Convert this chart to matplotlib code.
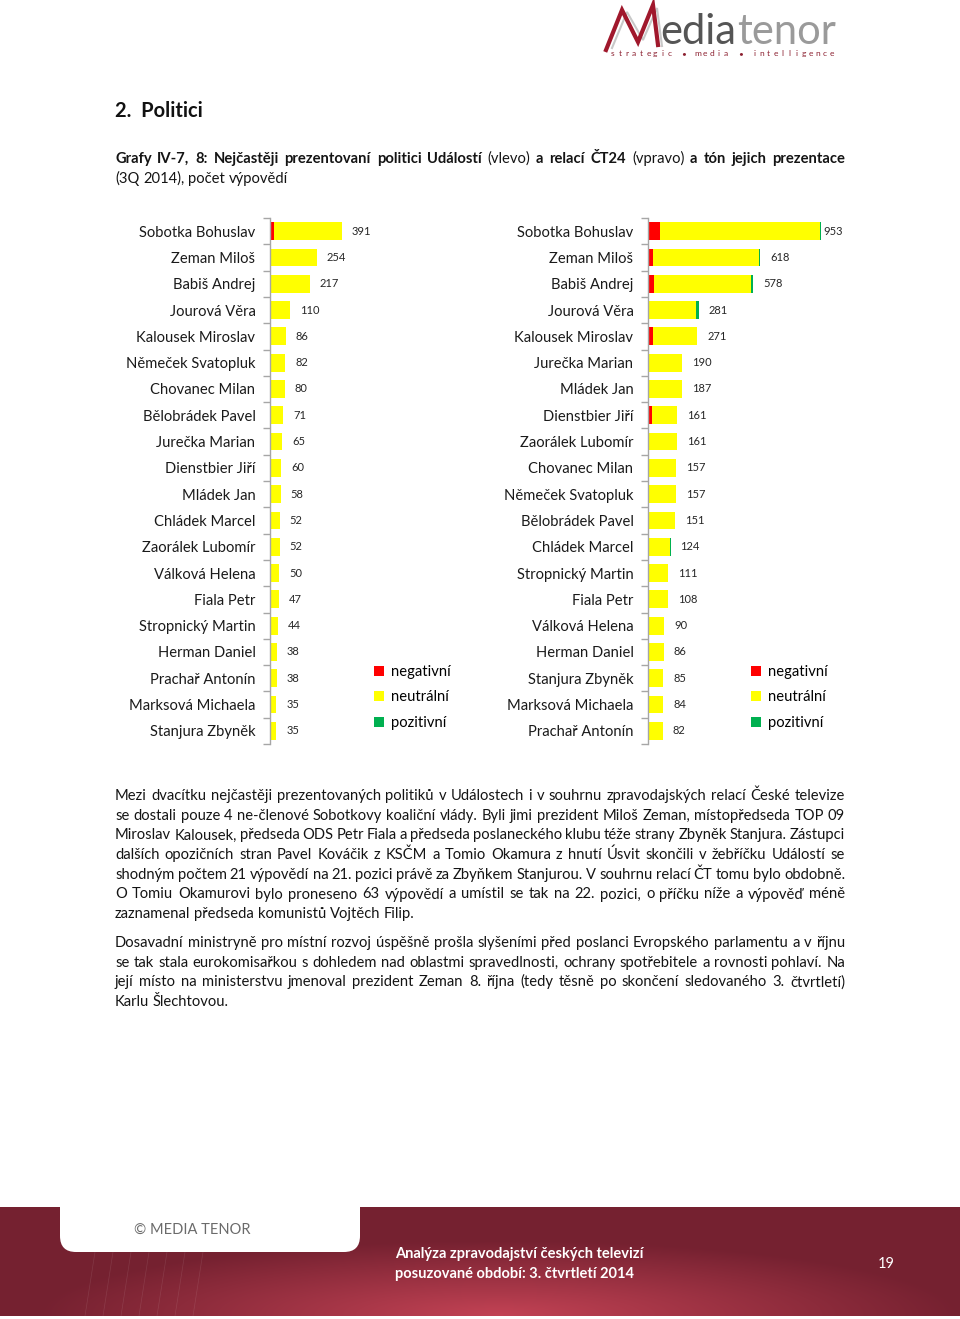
import numpy as np
import matplotlib
matplotlib.use('Agg')
import matplotlib.pyplot as plt
from matplotlib.patches import FancyBboxPatch, Rectangle

plt.rcParams['font.family'] = ['Lato', 'DejaVu Sans']

####################################################
# Data
left_names = ['Sobotka Bohuslav', 'Zeman Miloš', 'Babiš Andrej', 'Jourová Věra', 'Kalousek Miroslav',
              'Němeček Svatopluk', 'Chovanec Milan', 'Bělobrádek Pavel', 'Jurečka Marian', 'Dienstbier Jiří',
              'Mládek Jan', 'Chládek Marcel', 'Zaorálek Lubomír', 'Válková Helena', 'Fiala Petr',
              'Stropnický Martin', 'Herman Daniel', 'Prachař Antonín', 'Marksová Michaela', 'Stanjura Zbyněk']
left_total = [391, 254, 217, 110, 86, 82, 80, 71, 65, 60, 58, 52, 52, 50, 47, 44, 38, 38, 35, 35]
left_neg = [21, 5, 5, 1, 0, 0, 0, 0, 0, 2, 0, 0, 0, 0, 0, 0, 0, 0, 0, 0]
left_pos = [1, 0, 2, 4, 0, 0, 0, 0, 0, 0, 0, 0, 0, 0, 0, 0, 0, 0, 0, 0]

right_names = ['Sobotka Bohuslav', 'Zeman Miloš', 'Babiš Andrej', 'Jourová Věra', 'Kalousek Miroslav',
               'Jurečka Marian', 'Mládek Jan', 'Dienstbier Jiří', 'Zaorálek Lubomír', 'Chovanec Milan',
               'Němeček Svatopluk', 'Bělobrádek Pavel', 'Chládek Marcel', 'Stropnický Martin', 'Fiala Petr',
               'Válková Helena', 'Herman Daniel', 'Stanjura Zbyněk', 'Marksová Michaela', 'Prachař Antonín']
right_total = [953, 618, 578, 281, 271, 190, 187, 161, 161, 157, 157, 151, 124, 111, 108, 90, 86, 85, 84, 82]
right_neg = [66, 25, 33, 4, 27, 0, 0, 20, 0, 0, 2, 0, 6, 0, 0, 5, 0, 0, 0, 0]
right_pos = [5, 4, 10, 15, 0, 3, 0, 0, 0, 0, 0, 0, 2, 0, 0, 2, 0, 0, 0, 0]

tone_labels = ['negativní', 'neutrální', 'pozitivní']
tone_colors = ['#ff0000', '#ffff00', '#00b050']

caption_l1 = [('Grafy IV-7, 8: Nejčastěji prezentovaní politici Událostí', 'bold'), ('(vlevo)', 'normal'),
              ('a relací ČT24', 'bold'), ('(vpravo)', 'normal'), ('a tón jejich prezentace', 'bold')]
caption_l2 = '(3Q 2014), počet výpovědí'

para1 = ['Mezi dvacítku nejčastěji prezentovaných politiků v Událostech i v souhrnu zpravodajských relací České televize',
         'se dostali pouze 4 ne-členové Sobotkovy koaliční vlády. Byli jimi prezident Miloš Zeman, místopředseda TOP 09',
         'Miroslav Kalousek, předseda ODS Petr Fiala a předseda poslaneckého klubu téže strany Zbyněk Stanjura. Zástupci',
         'dalších opozičních stran Pavel Kováčik z KSČM a Tomio Okamura z hnutí Úsvit skončili v žebříčku Událostí se',
         'shodným počtem 21 výpovědí na 21. pozici právě za Zbyňkem Stanjurou. V souhrnu relací ČT tomu bylo obdobně.',
         'O Tomiu Okamurovi bylo proneseno 63 výpovědí a umístil se tak na 22. pozici, o příčku níže a výpověď méně',
         'zaznamenal předseda komunistů Vojtěch Filip.']
para2 = ['Dosavadní ministryně pro místní rozvoj úspěšně prošla slyšeními před poslanci Evropského parlamentu a v říjnu',
         'se tak stala eurokomisařkou s dohledem nad oblastmi spravedlnosti, ochrany spotřebitele a rovnosti pohlaví. Na',
         'její místo na ministerstvu jmenoval prezident Zeman 8. října (tedy těsně po skončení sledovaného 3. čtvrtletí)',
         'Karlu Šlechtovou.']
####################################################

W, H = 960, 1319
fig = plt.figure(figsize=(W / 100, H / 100), dpi=100)
page = fig.add_axes([0, 0, 1, 1], zorder=0)
page.set_xlim(0, W)
page.set_ylim(H, 0)
page.axis('off')
renderer = fig.canvas.get_renderer()


def text_width(s, size, weight='normal'):
    t = page.text(0, 0, s, fontsize=size, fontweight=weight)
    w = t.get_window_extent(renderer=renderer).width
    t.remove()
    return w


# Draw a line of words, optionally justified between x0 and x1
def draw_line(words, x0, x1, y, size, justify=True, color='#141414'):
    widths = [text_width(w, size, wt) for w, wt in words]
    space = text_width('a a', size) - text_width('aa', size)
    if justify and len(words) > 1:
        space = (x1 - x0 - sum(widths)) / (len(words) - 1)
    x = x0
    for (w, wt), wd in zip(words, widths):
        page.text(x, y, w, fontsize=size, fontweight=wt, color=color, va='baseline', ha='left')
        x += wd + space


def split_words(line, weight='normal'):
    return [(w, weight) for w in line.split()]


# Logo: stylised M drawn as strokes, then the word mark
page.plot([612, 627, 643, 657, 662], [48, 12, 40, 8, 46], color='#c8c8c8', lw=1.5, solid_joinstyle='miter')
page.plot([606, 622, 638, 653, 658], [50, 10, 42, 5, 45], color='#a0182c', lw=3, solid_joinstyle='miter')
x_logo = 660
page.text(x_logo, 44, 'edia', fontsize=30, color='#555555', va='baseline')
x_logo += text_width('edia', 30) + 1
page.text(x_logo, 44, 'tenor', fontsize=30, color='#9a9a9a', va='baseline')
tagline = 'strategic • media • intelligence'
pitch = (832 - 613) / (len(tagline) - 1)
for i, ch in enumerate(tagline):
    page.text(613 + i * pitch, 56, ch, fontsize=6, color='#8c2030', va='baseline', ha='center')

# Heading and caption
page.text(115, 117, '2.  Politici', fontsize=14.5, fontweight='bold', color='#111111', va='baseline')
cap_words = []
for part, wt in caption_l1:
    cap_words += split_words(part, wt)
draw_line(cap_words, 115, 845, 163, 10.6)
draw_line(split_words(caption_l2), 115, 845, 183, 10.6, justify=False)

# Body text
for i, line in enumerate(para1):
    draw_line(split_words(line), 115, 845, 800 + i * 19.7, 10.6, justify=(i < len(para1) - 1))
for i, line in enumerate(para2):
    draw_line(split_words(line), 115, 845, 947 + i * 19.7, 10.6, justify=(i < len(para2) - 1))


# Charts
def tone_chart(left_px, width_px, px_per_unit, names, total, neg, pos, legend_x):
    ax = fig.add_axes([left_px / W, 1 - 744 / H, width_px / W, 526 / H], zorder=2)
    ax.patch.set_alpha(0)
    total = np.array(total)
    neg = np.array(neg)
    pos = np.array(pos)
    neu = total - neg - pos
    y = np.arange(len(names))
    xmax = width_px / px_per_unit
    b1 = ax.barh(y, neg, height=0.68, color=tone_colors[0], label=tone_labels[0])
    b2 = ax.barh(y, neu, left=neg, height=0.68, color=tone_colors[1], label=tone_labels[1])
    b3 = ax.barh(y, pos, left=neg + neu, height=0.68, color=tone_colors[2], label=tone_labels[2])
    gap = 10 / px_per_unit
    for yi, t in zip(y, total):
        ax.text(min(t + gap, xmax), yi, str(t), fontsize=8, color='#262626', va='center', ha='left',
                clip_on=False)
    ax.set_xlim(0, xmax)
    ax.set_ylim(len(names) - 0.5, -0.5)
    ax.set_yticks(y)
    ax.set_yticklabels(names, fontsize=10.6, color='#1a1a1a')
    ax.set_yticks(np.arange(len(names) + 1) - 0.5, minor=True)
    ax.tick_params(axis='y', which='major', length=0, pad=10.5)
    ax.tick_params(axis='y', which='minor', length=5, direction='out', color='#a6a6a6', width=1)
    ax.set_xticks([])
    for s in ['top', 'right', 'bottom']:
        ax.spines[s].set_visible(False)
    ax.spines['left'].set_color('#a6a6a6')
    ax.spines['left'].set_linewidth(1)
    ax.legend(handles=[b1, b2, b3], loc='upper left', bbox_to_anchor=(legend_x / W, 1 - 665 / H),
              bbox_transform=fig.transFigure, frameon=False, fontsize=10.6, handlelength=0.65,
              handleheight=0.65, handletextpad=0.5, labelspacing=0.78, borderpad=0, borderaxespad=0)
    return ax


tone_chart(270, 100, 0.184, left_names, left_total, left_neg, left_pos, 374)
tone_chart(648, 175, 0.1815, right_names, right_total, right_neg, right_pos, 751)

# Footer band with gradient
gx = np.linspace(0, 1, 200)
gy = np.linspace(0, 1, 40)
GX, GY = np.meshgrid(gx, gy)
dist = np.sqrt(((GX - 0.52) * 1.3) ** 2 + ((GY - 1.0) * 0.9) ** 2)
light = np.clip(1 - dist * 1.6, 0, 1)
c_dark = np.array([0.46, 0.13, 0.19])
c_light = np.array([0.76, 0.26, 0.33])
img = c_dark[None, None, :] + (c_light - c_dark)[None, None, :] * light[:, :, None]
page.imshow(img, extent=(0, W, 1316, 1207), aspect='auto', zorder=1, interpolation='bilinear')
page.set_xlim(0, W)
page.set_ylim(H, 0)
for k in range(7):
    page.plot([95 + k * 18, 25 + k * 18 + 60], [1252, 1316], color='white', lw=0.5, alpha=0.1, zorder=2)
tab = FancyBboxPatch((60, 1190), 300, 62, boxstyle='round,pad=0,rounding_size=16',
                     facecolor='white', edgecolor='none', zorder=3)
page.add_patch(tab)
page.add_patch(Rectangle((60, 1190), 300, 20, facecolor='white', edgecolor='none', zorder=3))
page.text(134, 1234, '© MEDIA TENOR', fontsize=10.5, color='#6b6b6b', va='baseline', zorder=4)
page.text(395, 1258, 'Analýza zpravodajství českých televizí', fontsize=10.5, color='white',
          fontweight='bold', va='baseline', zorder=4)
page.text(395, 1278, 'posuzované období: 3. čtvrtletí 2014', fontsize=10.5, color='white',
          fontweight='bold', va='baseline', zorder=4)
page.text(878, 1268, '19', fontsize=10.5, color='white', va='baseline', zorder=4)

fig.savefig('out.png', dpi=100)
